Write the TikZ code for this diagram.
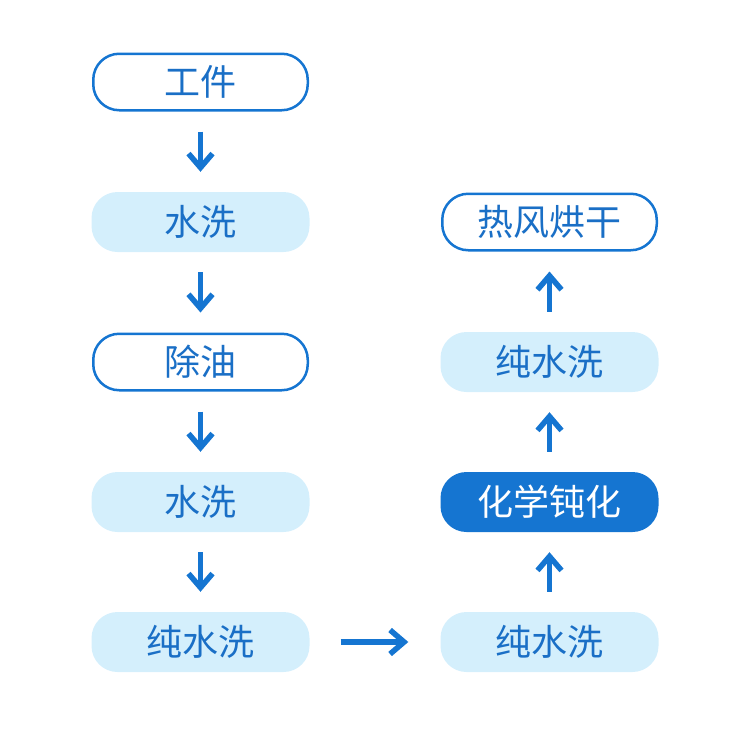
\documentclass[tikz,border=0pt]{standalone}
\usepackage{fontspec}
\setmainfont{Noto Sans CJK SC}
\usetikzlibrary{arrows.meta}
\definecolor{mblue}{HTML}{1575D1}
\definecolor{lightfill}{HTML}{D4EFFC}
\definecolor{tblue}{HTML}{1A6FC6}
\tikzset{
  base/.style={rounded corners=26pt, inner sep=0pt, font=\fontsize{36pt}{36pt}\selectfont},
  outlined/.style={base, minimum width=214.5pt, minimum height=56.5pt, draw=mblue, line width=2.5pt, fill=white, text=tblue},
  lightbox/.style={base, minimum width=218pt, minimum height=60pt, fill=lightfill, text=tblue},
  darkbox/.style={base, minimum width=218pt, minimum height=60pt, fill=mblue, text=white},
  flow/.style={draw=mblue, line width=5.5pt, -{Straight Barb[length=14pt,width=24pt,line width=5.5pt]}},
}
\begin{document}
\begin{tikzpicture}[x=1pt,y=-1pt]
\useasboundingbox (0,0) rectangle (750,734);
\node[outlined] (a) at (200.5,82) {工件};
\node[lightbox] (b) at (200.5,222) {水洗};
\node[outlined] (c) at (200.5,362) {除油};
\node[lightbox] (d) at (200.5,502) {水洗};
\node[lightbox] (e) at (200.5,642) {纯水洗};
\node[lightbox] (f) at (549.5,642) {纯水洗};
\node[darkbox] (g) at (549.5,502) {化学钝化};
\node[lightbox] (h) at (549.5,362) {纯水洗};
\node[outlined] (i) at (549.5,222) {热风烘干};
\draw[flow, shorten <=20pt, shorten >=20pt] (a.south) -- (b.north);
\draw[flow, shorten <=20pt, shorten >=20pt] (b.south) -- (c.north);
\draw[flow, shorten <=20pt, shorten >=20pt] (c.south) -- (d.north);
\draw[flow, shorten <=20pt, shorten >=20pt] (d.south) -- (e.north);
\draw[flow, shorten <=31pt, shorten >=32pt] (e.east) -- (f.west);
\draw[flow, shorten <=20pt, shorten >=20pt] (f.north) -- (g.south);
\draw[flow, shorten <=20pt, shorten >=20pt] (g.north) -- (h.south);
\draw[flow, shorten <=20pt, shorten >=20pt] (h.north) -- (i.south);
\end{tikzpicture}
\end{document}
